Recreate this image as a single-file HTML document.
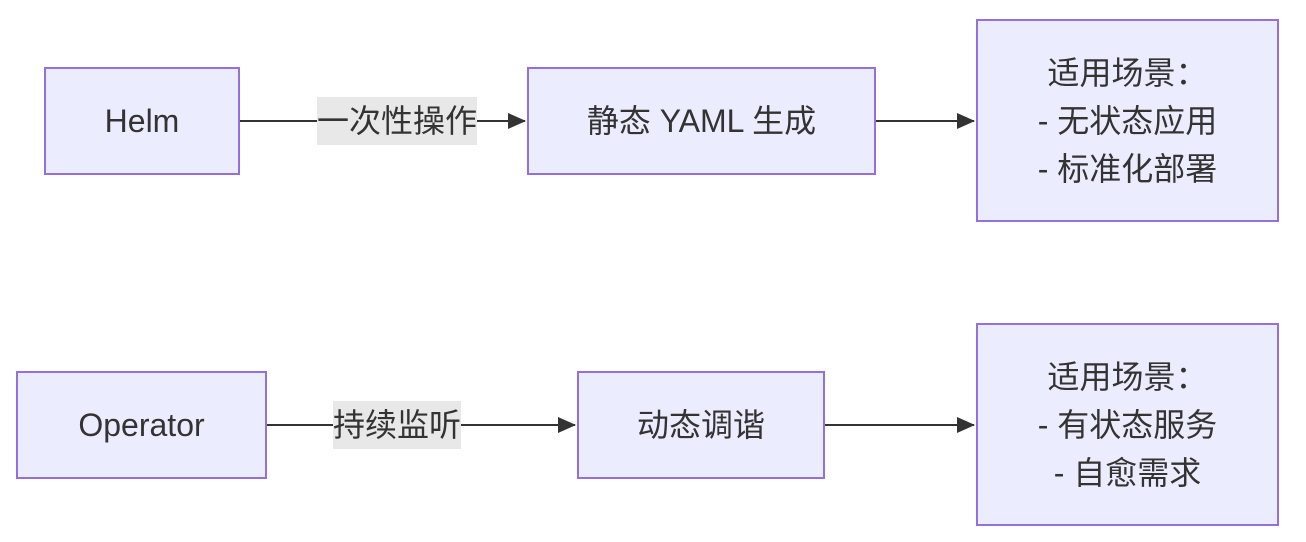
<!DOCTYPE html>
<html><head><meta charset="utf-8"><style>
body{margin:0;width:1306px;height:542px;background:#fff;position:relative;overflow:hidden;font-family:"Liberation Sans","Noto Sans CJK SC",sans-serif;color:#333;}
.b{position:absolute;box-sizing:border-box;background:#ECECFF;border:2px solid #9370DB;display:flex;align-items:center;justify-content:center;text-align:center;font-size:32px;line-height:48px;}
.l{position:absolute;background:#e8e8e8;font-size:32px;line-height:48px;text-align:center;white-space:nowrap;}
svg{position:absolute;left:0;top:0}
</style></head><body>
<svg width="1306" height="542">
<defs>
<marker id="b" markerWidth="18" markerHeight="16" refX="17" refY="8" orient="auto" markerUnits="userSpaceOnUse"><path d="M0,0 L18,8 L0,16 z" fill="#333"/></marker></defs>
<line x1="240" y1="121" x2="525" y2="121" stroke="#333" stroke-width="2" marker-end="url(#b)"/>
<line x1="876" y1="121" x2="974" y2="121" stroke="#333" stroke-width="2" marker-end="url(#b)"/>
<line x1="267" y1="425" x2="575" y2="425" stroke="#333" stroke-width="2" marker-end="url(#b)"/>
<line x1="825" y1="425" x2="974" y2="425" stroke="#333" stroke-width="2" marker-end="url(#b)"/>
</svg>
<div class="b" style="left:44px;top:67px;width:196px;height:108px">Helm</div>
<div class="l" style="left:317px;top:97px;width:160px;height:48px">一次性操作</div>
<div class="b" style="left:527px;top:67px;width:349px;height:108px">静态 YAML 生成</div>
<div class="b" style="left:976px;top:19px;width:303px;height:203px">适用场景：<br>- 无状态应用<br>- 标准化部署</div>
<div class="b" style="left:16px;top:371px;width:251px;height:108px">Operator</div>
<div class="l" style="left:333px;top:401px;width:128px;height:48px">持续监听</div>
<div class="b" style="left:577px;top:371px;width:248px;height:108px">动态调谐</div>
<div class="b" style="left:976px;top:323px;width:303px;height:203px">适用场景：<br>- 有状态服务<br>- 自愈需求</div>
</body></html>
